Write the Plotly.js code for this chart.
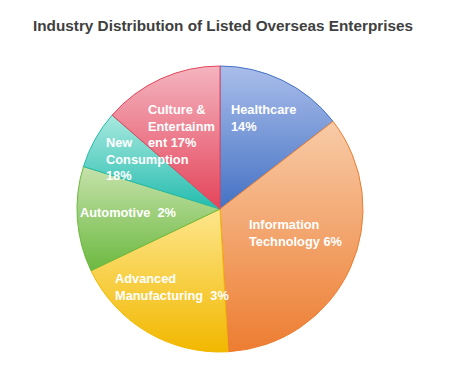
<!DOCTYPE html>
<html>
<head>
<meta charset="utf-8">
<script src="https://cdn.plot.ly/plotly-3.0.1.min.js"></script>
<style>html,body{margin:0;padding:0;background:#fff;}</style>
</head>
<body>
<div id="chart" style="width:451px;height:374px;"></div>
<script>
const categories = ["Healthcare", "Information Technology", "Advanced Manufacturing", "Automotive", "New Consumption", "Culture & Entertainment"];
const values = [14.5, 34.6, 18.8, 11.9, 6.6, 13.6];
const sliceLabels = ["Healthcare<br>14%", "Information<br>Technology 6%", "Advanced<br>Manufacturing  3%", "Automotive  2%", "New<br>Consumption<br>18%", "Culture &<br>Entertainm<br>ent 17%"];
const topColors = ["#aabdea", "#f8cba7", "#fde68c", "#c6e2ab", "#a9e9df", "#f4b4bf"];
const bottomColors = ["#4472c4", "#ed7d31", "#f2b800", "#6cb940", "#23bcae", "#e4445a"];
// label anchor positions in pixels (left x, middle y)
const labelPos = [[229,118],[247,233],[113,287],[78,213],[104,159],[146,126]];

const W = 451, H = 374;
const px = x => x / W, py = y => 1 - y / H;

const trace = {
  type: "pie",
  labels: categories,
  values: values,
  sort: false,
  direction: "clockwise",
  rotation: 0,
  textinfo: "none",
  hoverinfo: "label+percent",
  marker: { colors: bottomColors, line: { color: bottomColors, width: 1 } },
  domain: { x: [px(77), px(363)], y: [py(352), py(66)] },
  showlegend: false
};

const annotations = sliceLabels.map((t, i) => ({
  xref: "paper", yref: "paper",
  x: px(labelPos[i][0]), y: py(labelPos[i][1]),
  xanchor: "left", yanchor: "middle", align: "left",
  text: t, showarrow: false,
  font: { family: "Liberation Sans, Arial, sans-serif", size: 12.8, color: "#ffffff", weight: "bold" }
}));

const layout = {
  width: W, height: H,
  margin: { l: 0, r: 0, t: 0, b: 0 },
  paper_bgcolor: "#ffffff",
  title: {
    text: "Industry Distribution of Listed Overseas Enterprises",
    x: px(223), xanchor: "center", y: py(26), yanchor: "middle",
    font: { family: "Liberation Sans, Arial, sans-serif", size: 15.3, color: "#404040", weight: "bold" }
  },
  annotations: annotations
};

Plotly.newPlot("chart", [trace], layout, { displayModeBar: false, staticPlot: true }).then(() => {
  const svg = document.querySelector("#chart .main-svg");
  let defs = svg.querySelector("defs");
  const NS = "http://www.w3.org/2000/svg";
  if (!defs) { defs = document.createElementNS(NS, "defs"); svg.insertBefore(defs, svg.firstChild); }
  topColors.forEach((c, i) => {
    const g = document.createElementNS(NS, "linearGradient");
    g.setAttribute("id", "sliceGrad" + i);
    g.setAttribute("x1", "0"); g.setAttribute("y1", "0");
    g.setAttribute("x2", "0"); g.setAttribute("y2", "1");
    const s1 = document.createElementNS(NS, "stop");
    s1.setAttribute("offset", "0"); s1.setAttribute("stop-color", c);
    const s2 = document.createElementNS(NS, "stop");
    s2.setAttribute("offset", "1"); s2.setAttribute("stop-color", bottomColors[i]);
    g.appendChild(s1); g.appendChild(s2);
    defs.appendChild(g);
  });
  const paths = document.querySelectorAll("#chart .slice path.surface");
  paths.forEach((p, i) => { p.style.fill = "url(#sliceGrad" + i + ")"; });
});
</script>
</body>
</html>
